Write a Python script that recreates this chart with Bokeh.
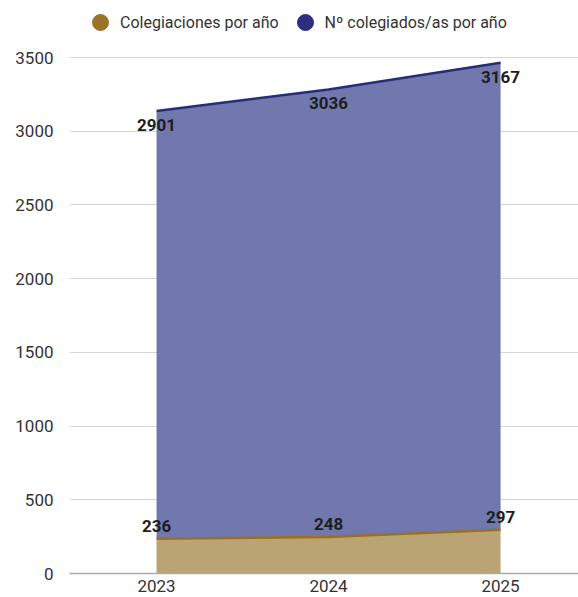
from bokeh.plotting import figure
from bokeh.models import (ColumnDataSource, Range1d, FixedTicker, Legend, LegendItem,
                          LabelSet, CustomJSTickFormatter)
from bokeh.embed import file_html
from bokeh.resources import INLINE
from bokeh.core.properties import value

years = [2023, 2024, 2025]
colegiaciones = [236, 248, 297]
colegiados = [2901, 3036, 3167]
y_ticks = [0, 500, 1000, 1500, 2000, 2500, 3000, 3500]

total = [c + n for c, n in zip(colegiaciones, colegiados)]
zeros = [0 for _ in years]

GOLD_FILL = "#bba473"
GOLD_LINE = "#9b7020"
NAVY_FILL = "#7178ae"
NAVY_LINE = "#262d7a"
FONT = "Roboto"

src = ColumnDataSource(dict(
    x=years, zero=zeros, c=colegiaciones, n=colegiados, t=total,
    c_lbl=[str(v) for v in colegiaciones], n_lbl=[str(v) for v in colegiados],
))

p = figure(width=578, height=597, output_backend="svg", toolbar_location=None,
           x_range=Range1d(2022.494, 2025.453), y_range=Range1d(0, 3887),
           min_border_left=69, min_border_right=0, min_border_top=0, min_border_bottom=24)
p.outline_line_color = None
p.background_fill_color = "white"

p.varea(x="x", y1="zero", y2="c", source=src, fill_color=GOLD_FILL)
p.varea(x="x", y1="c", y2="t", source=src, fill_color=NAVY_FILL)
p.line(x="x", y="c", source=src, line_color=GOLD_LINE, line_width=2.5)
p.line(x="x", y="t", source=src, line_color=NAVY_LINE, line_width=2.5)

lbl_c = LabelSet(x="x", y="c", text="c_lbl", source=src, text_align="center",
                 text_baseline="middle", y_offset=13, text_font=value(FONT),
                 text_font_style="bold", text_font_size="17px", text_color="#1e1e1e")
lbl_n = LabelSet(x="x", y="t", text="n_lbl", source=src, text_align="center",
                 text_baseline="middle", y_offset=-14, text_font=value(FONT),
                 text_font_style="bold", text_font_size="17px", text_color="#1e1e1e")
p.add_layout(lbl_c)
p.add_layout(lbl_n)

# axes
p.xaxis.ticker = FixedTicker(ticks=years)
p.xaxis.formatter = CustomJSTickFormatter(code="return String(Math.round(tick));")
p.yaxis.ticker = FixedTicker(ticks=y_ticks)
for ax in (p.xaxis[0], p.yaxis[0]):
    ax.major_tick_line_color = None
    ax.minor_tick_line_color = None
    ax.major_tick_out = 0
    ax.major_tick_in = 0
    ax.major_label_text_font = FONT
    ax.major_label_text_font_size = "17px"
    ax.major_label_text_color = "#333333"
p.yaxis.axis_line_color = None
p.yaxis.major_label_standoff = 16
p.xaxis.axis_line_color = "#aaaaaa"
p.xaxis.axis_line_width = 1.5
p.xaxis.major_label_standoff = 6
p.xgrid.grid_line_color = None
p.ygrid.grid_line_color = "#d6d6d6"
p.ygrid.grid_line_width = 1

# legend markers (size 0 on the chart; the legend draws its own circle)
r1 = p.scatter(x="x", y="c", source=src, size=0, marker="circle",
               fill_color="#9b7428", line_color="#9b7428")
r2 = p.scatter(x="x", y="t", source=src, size=0, marker="circle",
               fill_color="#2a2f80", line_color="#2a2f80")
legend = Legend(items=[LegendItem(label="Colegiaciones por año", renderers=[r1]),
                       LegendItem(label="Nº colegiados/as por año", renderers=[r2])],
                orientation="horizontal", location=(11, 531),
                glyph_width=40, glyph_height=40, label_standoff=-4, spacing=6,
                padding=0, margin=0, border_line_color=None, background_fill_alpha=0,
                label_text_font=FONT, label_text_font_size="16px", label_text_color="#333333")
p.add_layout(legend)

open("out.html", "w").write(file_html(p, INLINE))
